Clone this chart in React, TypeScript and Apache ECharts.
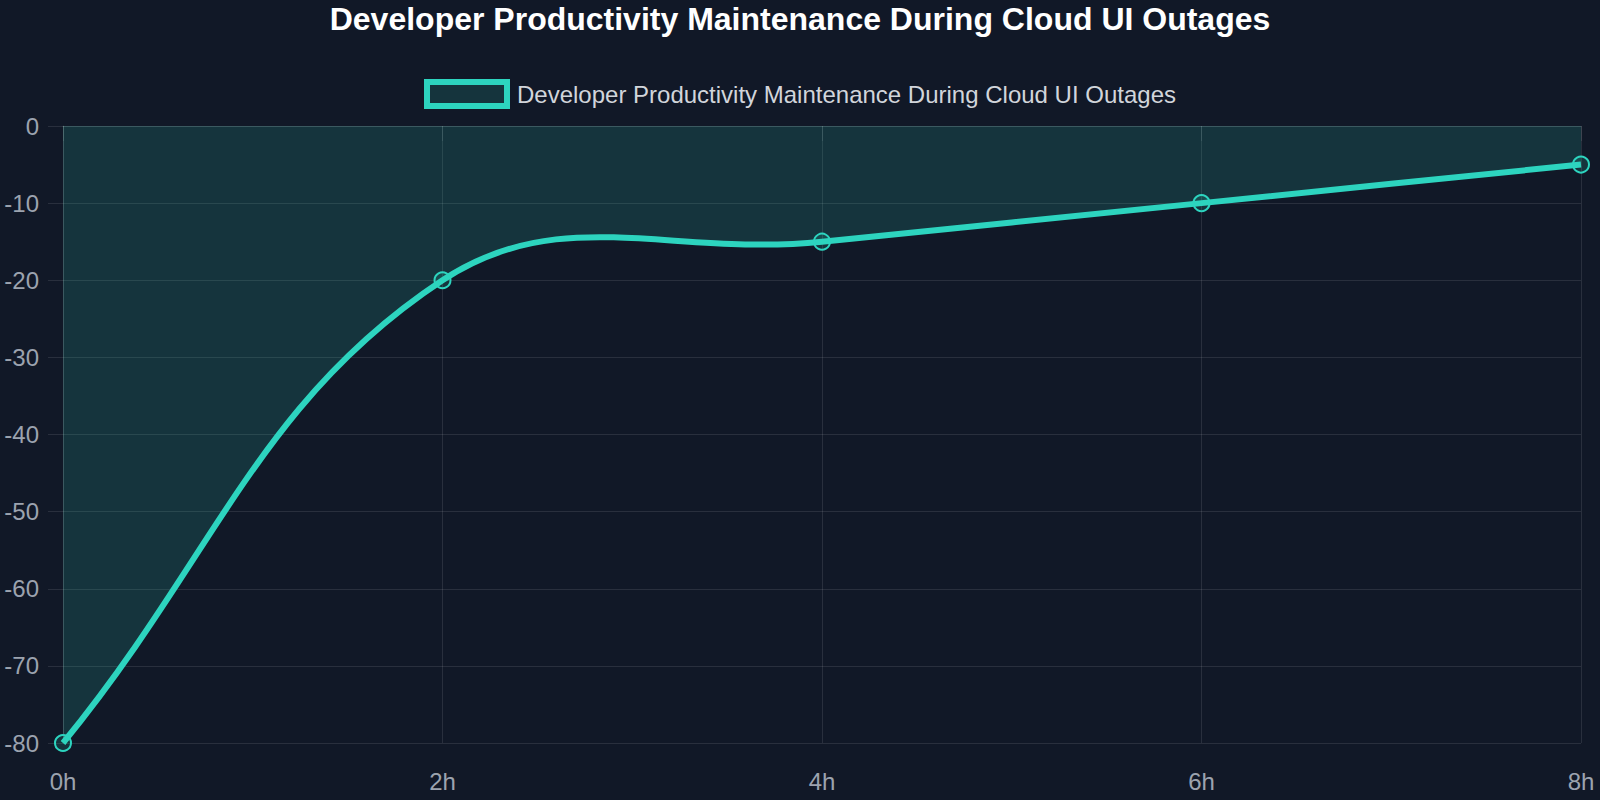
import React, { useEffect, useRef } from "react";
import * as echarts from "echarts";

const title = "Developer Productivity Maintenance During Cloud UI Outages";
const seriesName = "Developer Productivity Maintenance During Cloud UI Outages";
const categories = ["0h", "2h", "4h", "6h", "8h"];
const values = [-80, -20, -15, -10, -5];
const yMin = -80;
const yMax = 0;
const yInterval = 10;
const tension = 0.4;

const BG = "#111827";
const TEAL = "#2dd4bf";
const FILL = "rgba(45,212,191,0.15)";
const GRID = "rgba(255,255,255,0.1)";
const LABEL = "#9ca3af";
const FONT = "'Liberation Sans', Arial, Helvetica, sans-serif";

type Pt = [number, number];

// Chart.js-style spline control points (tension), capped to the plot area
function splinePath(pts: Pt[], box: { x: number; y: number; width: number; height: number }) {
  const n = pts.length;
  const cps: { prev: Pt; next: Pt }[] = [];
  const clamp = (v: number, a: number, b: number) => Math.max(a, Math.min(b, v));
  for (let i = 0; i < n; i++) {
    const cur = pts[i];
    const prev = i > 0 ? pts[i - 1] : cur;
    const next = i < n - 1 ? pts[i + 1] : cur;
    const d01 = Math.hypot(cur[0] - prev[0], cur[1] - prev[1]);
    const d12 = Math.hypot(next[0] - cur[0], next[1] - cur[1]);
    let s01 = d01 / (d01 + d12);
    let s12 = d12 / (d01 + d12);
    if (!isFinite(s01)) s01 = 0;
    if (!isFinite(s12)) s12 = 0;
    const fa = tension * s01;
    const fb = tension * s12;
    const p: Pt = [cur[0] - fa * (next[0] - prev[0]), cur[1] - fa * (next[1] - prev[1])];
    const q: Pt = [cur[0] + fb * (next[0] - prev[0]), cur[1] + fb * (next[1] - prev[1])];
    const x0 = box.x, x1 = box.x + box.width, y0 = box.y, y1 = box.y + box.height;
    p[0] = clamp(p[0], x0, x1); p[1] = clamp(p[1], y0, y1);
    q[0] = clamp(q[0], x0, x1); q[1] = clamp(q[1], y0, y1);
    cps.push({ prev: p, next: q });
  }
  let d = `M${pts[0][0]},${pts[0][1]}`;
  for (let i = 1; i < n; i++) {
    const a = cps[i - 1].next;
    const b = cps[i].prev;
    d += ` C${a[0]},${a[1]} ${b[0]},${b[1]} ${pts[i][0]},${pts[i][1]}`;
  }
  return d;
}

export default function App() {
  const ref = useRef<HTMLDivElement>(null);
  useEffect(() => {
    document.body.style.margin = "0";
    document.body.style.overflow = "hidden";
    if (!ref.current) return;
    const chart = echarts.init(ref.current, undefined, { renderer: "svg" });
    chart.setOption({
      animation: false,
      backgroundColor: BG,
      textStyle: { fontFamily: FONT },
      title: {
        text: title,
        left: "center",
        top: 3,
        padding: 0,
        textStyle: { color: "#ffffff", fontSize: 32, fontWeight: "bold", fontFamily: FONT },
      },
      legend: {
        left: "center",
        top: 74,
        icon: "rect",
        itemWidth: 80,
        itemHeight: 24,
        itemStyle: { color: FILL, borderColor: TEAL, borderWidth: 6 },
        textStyle: { color: "#d1d5db", fontSize: 24, fontFamily: FONT, padding: [0, 0, 0, 5] },
        data: [seriesName],
      },
      grid: { left: 63, right: 19, top: 126, bottom: 57, containLabel: false },
      xAxis: {
        type: "category",
        data: categories,
        boundaryGap: false,
        axisLine: { show: true, lineStyle: { color: GRID, width: 1 } },
        axisTick: { show: true, length: 15, lineStyle: { color: GRID, width: 1 } },
        axisLabel: { color: LABEL, fontSize: 24, margin: 26, fontFamily: FONT },
        splitLine: { show: true, lineStyle: { color: GRID, width: 1 } },
      },
      yAxis: {
        type: "value",
        min: yMin,
        max: yMax,
        interval: yInterval,
        axisLine: { show: true, lineStyle: { color: GRID, width: 1 } },
        axisTick: { show: true, length: 15, lineStyle: { color: GRID, width: 1 } },
        axisLabel: { color: LABEL, fontSize: 24, margin: 24, fontFamily: FONT },
        splitLine: { show: true, lineStyle: { color: GRID, width: 1 } },
      },
      series: [
        {
          name: seriesName,
          type: "custom",
          data: values.map((v, i) => [i, v]),
          encode: { x: 0, y: 1 },
          itemStyle: { color: FILL, borderColor: TEAL },
          renderItem: (params: any, api: any) => {
            if (params.dataIndex !== 0) return null;
            const box = params.coordSys;
            const pts: Pt[] = values.map((v, i) => api.coord([i, v]) as Pt);
            const line = splinePath(pts, box);
            const base = api.coord([0, 0])[1];
            const area = `${line} L${pts[pts.length - 1][0]},${base} L${pts[0][0]},${base} Z`;
            return {
              type: "group",
              children: [
                { type: "path", shape: { pathData: area }, style: { fill: FILL, stroke: "none" } },
                {
                  type: "path",
                  shape: { pathData: line },
                  style: { fill: "none", stroke: TEAL, lineWidth: 6, lineJoin: "round" },
                },
              ],
            };
          },
          emphasis: { disabled: true },
          z: 2,
        },
        {
          name: seriesName,
          type: "line",
          data: values,
          symbol: "circle",
          symbolSize: 16,
          showAllSymbol: true,
          lineStyle: { width: 0, opacity: 0 },
          itemStyle: { color: FILL, borderColor: TEAL, borderWidth: 2 },
          emphasis: { disabled: true },
          z: 3,
        },
      ],
    });
    return () => chart.dispose();
  }, []);
  return <div ref={ref} style={{ width: 1600, height: 800 }} />;
}
